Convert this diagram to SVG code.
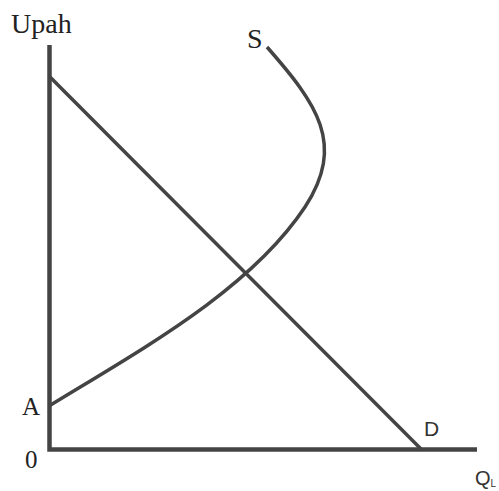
<svg xmlns="http://www.w3.org/2000/svg" width="499" height="491" viewBox="0 0 499 491">
<style>
.ln{fill:none;stroke:#444;stroke-width:3.5}
.ax{fill:none;stroke:#444;stroke-width:4.5}
.serif{font-family:"Liberation Serif",serif;fill:#222}
.sans{font-family:"Liberation Sans",sans-serif;fill:#333}
</style>
<rect width="499" height="491" fill="#fff"/>
<g id="axes">
<path class="ax" d="M49.5,45 V449.5 H477"/>
</g>
<g id="connectors">
<path id="demand" class="ln" d="M49,76 L421,449"/>
<path id="supply" class="ln" d="M49,406 C142,349 250,290 305,207 C346,144 317,104 267,47"/>
</g>
<g id="labels">
<text class="serif" x="11" y="33" font-size="28">Upah</text>
<text class="serif" x="247" y="48" font-size="28">S</text>
<text class="serif" x="22" y="415" font-size="25">A</text>
<text class="serif" x="25" y="468" font-size="25">0</text>
<text class="sans" x="424" y="436" font-size="21">D</text>
<text class="sans" x="475" y="485" font-size="20">Q<tspan font-size="10" dy="2">L</tspan></text>
</g>
</svg>
